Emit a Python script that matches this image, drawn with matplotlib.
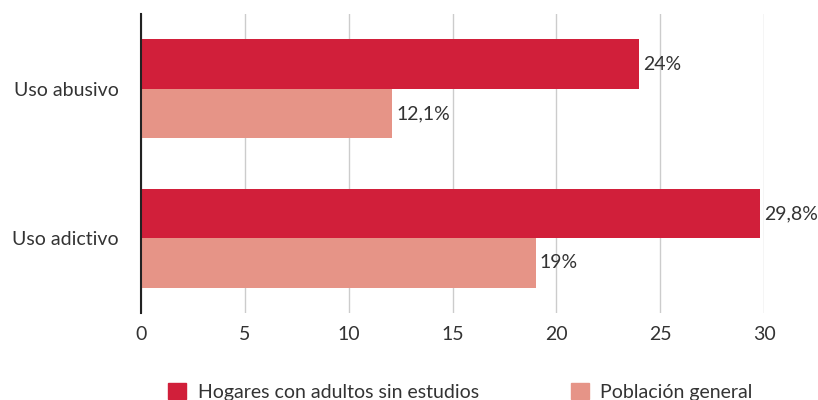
import matplotlib
matplotlib.use("Agg")
import matplotlib.pyplot as plt
from matplotlib.patches import Patch

categories = ["Uso abusivo", "Uso adictivo"]
series_names = ["Hogares con adultos sin estudios", "Población general"]
hogares = [24.0, 29.8]
poblacion = [12.1, 19.0]
hogares_labels = ["24%", "29,8%"]
poblacion_labels = ["12,1%", "19%"]
xticks = [0, 5, 10, 15, 20, 25, 30]

c_red = "#D11F3A"
c_pink = "#E69487"
txt = "#333333"

plt.rcParams['font.family'] = ['Lato', 'DejaVu Sans']
fs = 14

fig = plt.figure(figsize=(8.18, 4.0), dpi=100)
ax = fig.add_axes([141/818, 1 - 313/400, (764-141)/818, (313-14)/400])

h = 0.33
ys = list(range(len(categories)))
b1 = ax.barh([y - h/2 for y in ys], hogares, height=h, color=c_red, zorder=3)
b2 = ax.barh([y + h/2 for y in ys], poblacion, height=h, color=c_pink, zorder=3)

for bars, labels in ((b1, hogares_labels), (b2, poblacion_labels)):
    for rect, lab in zip(bars, labels):
        ax.text(rect.get_width() + 0.2, rect.get_y() + rect.get_height()/2, lab,
                va='center', ha='left', fontsize=fs, color=txt, zorder=4)

ax.set_xlim(0, 30)
ax.set_ylim(1.5, -0.5)
ax.set_xticks(xticks)
ax.set_xticklabels([str(v) for v in xticks], fontsize=fs, color=txt)
ax.set_yticks(ys)
ax.set_yticklabels(categories, fontsize=fs, color=txt)
ax.tick_params(axis='both', length=0)
ax.tick_params(axis='x', pad=9)
ax.tick_params(axis='y', pad=16)
ax.grid(axis='x', color='#cccccc', linewidth=1, zorder=0)
for s in ['top', 'right', 'bottom']:
    ax.spines[s].set_visible(False)
ax.spines['left'].set_color('#222222')
ax.spines['left'].set_linewidth(1.5)
ax.spines['left'].set_zorder(5)

handles = [Patch(color=c_red), Patch(color=c_pink)]
fig.legend(handles, series_names, loc='center', bbox_to_anchor=(0.563, 0.02),
           ncol=2, frameon=False, fontsize=fs, handlelength=0.9, handleheight=0.9,
           columnspacing=4.75, handletextpad=0.6, labelcolor=txt)

fig.savefig("out.png", dpi=100)
